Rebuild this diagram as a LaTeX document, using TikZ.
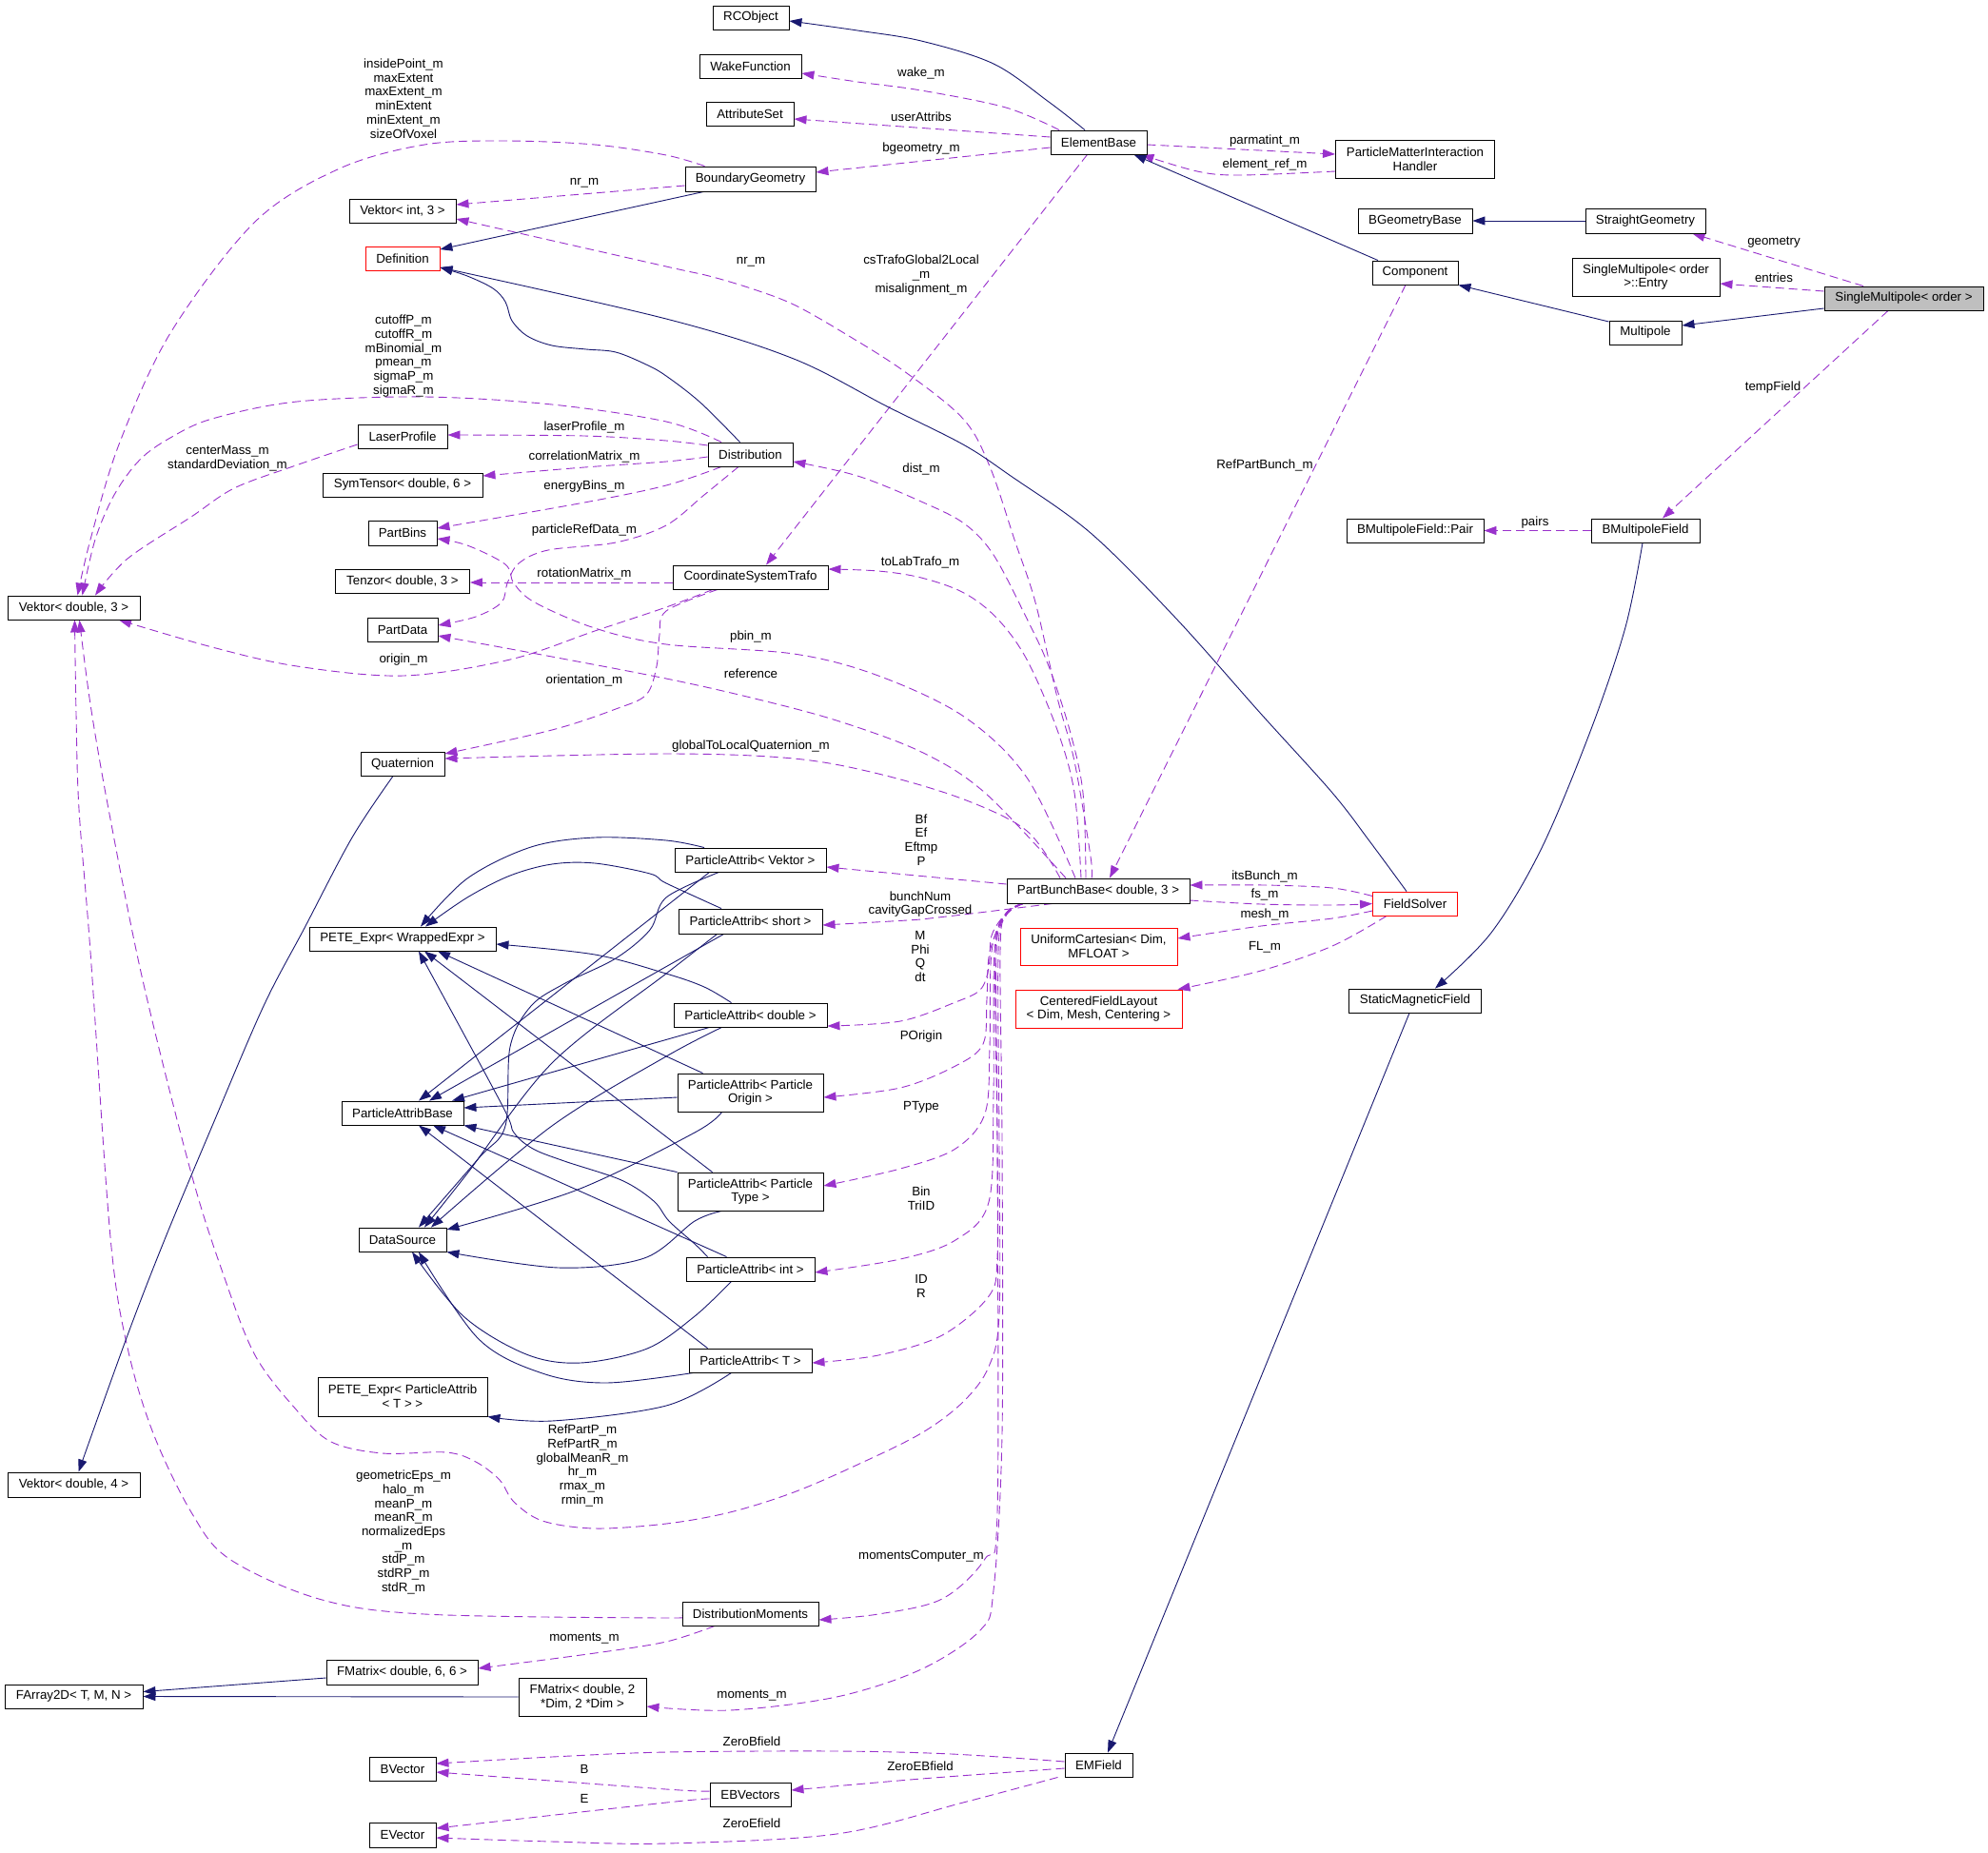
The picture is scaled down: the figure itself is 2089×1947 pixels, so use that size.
\documentclass[tikz,border=0pt]{standalone}
\usepackage{fontspec}
\setmainfont{Liberation Sans}
\usetikzlibrary{arrows.meta,calc,backgrounds}
\definecolor{mblue}{RGB}{25,25,112}
\definecolor{dorchid}{RGB}{153,50,204}
\definecolor{grayfill}{RGB}{191,191,191}
\newcommand{\labfont}{\fontsize{13.3}{14.7}\selectfont}
\tikzset{
 cls/.style={draw=black, line width=0.9pt, fill=white, inner sep=0pt, align=center, minimum height=25pt, font=\labfont},
 redcls/.style={cls, draw=red},
 inh/.style={draw=mblue, line width=0.9pt, -{Triangle[length=13pt,width=9pt]}},
 usage/.style={draw=dorchid, line width=0.9pt, dash pattern=on 9pt off 5pt, -{Triangle[length=13pt,width=9pt]}},
 lbl/.style={inner sep=0pt, align=center, font=\labfont},
 sm/.style={smooth, tension=0.55}
}
\begin{document}
\begin{tikzpicture}[x=1pt,y=-1pt]
\useasboundingbox (0,0) rectangle (2089,1947);
% ---------- nodes ----------
\node[cls, minimum width=80pt] (rc) at (789,18.5) {RCObject};
\node[cls, minimum width=107pt] (wf) at (788.5,69.5) {WakeFunction};
\node[cls, minimum width=92pt] (as) at (788,119.5) {AttributeSet};
\node[cls, minimum width=137pt, minimum height=26pt] (bg) at (788.5,188) {BoundaryGeometry};
\node[cls, minimum width=101pt] (eb) at (1154.5,149.5) {ElementBase};
\node[cls, minimum width=167pt, minimum height=40pt] (pmih) at (1487,167) {ParticleMatterInteraction\\Handler};
\node[cls, minimum width=120pt, minimum height=26pt] (bgb) at (1487,232) {BGeometryBase};
\node[cls, minimum width=126pt, minimum height=26pt] (sg) at (1729,232) {StraightGeometry};
\node[cls, minimum width=155pt, minimum height=40pt] (en) at (1729.5,291) {SingleMultipole< order\\>::Entry};
\node[cls, minimum width=90pt] (comp) at (1487,286.5) {Component};
\node[cls, fill=grayfill, minimum width=167pt] (smp) at (2000.5,313.5) {SingleMultipole< order >};
\node[cls, minimum width=76pt] (mp) at (1729,349.5) {Multipole};
\node[cls, minimum width=112pt] (vi3) at (423,221.5) {Vektor< int, 3 >};
\node[redcls, minimum width=78pt] (def) at (423,271.5) {Definition};
\node[cls, minimum width=94pt] (lp) at (423,458.5) {LaserProfile};
\node[cls, minimum width=168pt] (st) at (423,509.5) {SymTensor< double, 6 >};
\node[cls, minimum width=72pt, minimum height=26pt] (pb) at (423,560) {PartBins};
\node[cls, minimum width=141pt] (tz) at (423,610.5) {Tenzor< double, 3 >};
\node[cls, minimum width=74pt] (pd) at (423,661.5) {PartData};
\node[cls, minimum width=139pt] (v3) at (77.5,638.5) {Vektor< double, 3 >};
\node[cls, minimum width=88pt] (q) at (423,802.5) {Quaternion};
\node[cls, minimum width=89pt] (dist) at (788.5,477.5) {Distribution};
\node[cls, minimum width=163pt] (cst) at (788.5,606.5) {CoordinateSystemTrafo};
\node[cls, minimum width=159pt] (pav) at (788.5,903.5) {ParticleAttrib< Vektor >};
\node[cls, minimum width=151pt, minimum height=26pt] (pas) at (788.5,968) {ParticleAttrib< short >};
\node[cls, minimum width=161pt] (pad) at (788.5,1066.5) {ParticleAttrib< double >};
\node[cls, minimum width=153pt, minimum height=40pt] (pao) at (788.5,1148) {ParticleAttrib< Particle\\Origin >};
\node[cls, minimum width=153pt, minimum height=40pt] (pat) at (788.5,1252) {ParticleAttrib< Particle\\Type >};
\node[cls, minimum width=135pt] (pai) at (788.5,1333.5) {ParticleAttrib< int >};
\node[cls, minimum width=129pt] (pa2) at (788.5,1429.5) {ParticleAttrib< T >};
\node[cls, minimum width=192pt, minimum height=26pt] (pbb) at (1154,936) {PartBunchBase< double, 3 >};
\node[redcls, minimum width=165pt, minimum height=39pt] (uc) at (1154.5,994.5) {UniformCartesian< Dim,\\MFLOAT >};
\node[redcls, minimum width=175pt, minimum height=40pt] (cfl) at (1154.5,1060) {CenteredFieldLayout\\< Dim, Mesh, Centering >};
\node[cls, minimum width=196pt] (pete) at (423,986.5) {PETE\_Expr< WrappedExpr >};
\node[cls, minimum width=128pt] (pab) at (423,1169.5) {ParticleAttribBase};
\node[cls, minimum width=92pt] (ds) at (423,1302.5) {DataSource};
\node[cls, minimum width=178pt, minimum height=41pt] (pete2) at (423,1467.5) {PETE\_Expr< ParticleAttrib\\< T > >};
\node[cls, minimum width=139pt, minimum height=26pt] (v4) at (77.5,1560) {Vektor< double, 4 >};
\node[cls, minimum width=143pt] (dm) at (788.5,1695.5) {DistributionMoments};
\node[cls, minimum width=159pt, minimum height=26pt] (fm66) at (422.5,1757) {FMatrix< double, 6, 6 >};
\node[cls, minimum width=145pt] (fa) at (77.5,1782.5) {FArray2D< T, M, N >};
\node[cls, minimum width=134pt, minimum height=40pt] (fm2) at (612,1783) {FMatrix< double, 2\\*Dim, 2 *Dim >};
\node[cls, minimum width=70pt] (bv) at (423,1858.5) {BVector};
\node[cls, minimum width=70pt, minimum height=26pt] (ev) at (423,1928) {EVector};
\node[cls, minimum width=85pt] (ebv) at (788.5,1885.5) {EBVectors};
\node[cls, minimum width=71pt] (em) at (1154.5,1854.5) {EMField};
\node[cls, minimum width=144pt] (pair) at (1487,557.5) {BMultipoleField::Pair};
\node[cls, minimum width=114pt] (bmf) at (1729,557.5) {BMultipoleField};
\node[redcls, minimum width=89pt] (fs) at (1487,949.5) {FieldSolver};
\node[cls, minimum width=139pt] (smf) at (1487,1051.5) {StaticMagneticField};
% ---------- labels ----------
\node[lbl] (la1) at (424,103.5) {insidePoint\_m\\maxExtent\\maxExtent\_m\\minExtent\\minExtent\_m\\sizeOfVoxel};
\node[lbl] (la2) at (614,192) {nr\_m};
\node[lbl] (la3) at (789,275) {nr\_m};
\node[lbl] (la4) at (968,77) {wake\_m};
\node[lbl] (la5) at (968,123) {userAttribs};
\node[lbl] (la6) at (968,156) {bgeometry\_m};
\node[lbl] (la7) at (1329,148) {parmatint\_m};
\node[lbl] (la8) at (1329,173) {element\_ref\_m};
\node[lbl] (la9) at (968,289) {csTrafoGlobal2Local\\\_m\\misalignment\_m};
\node[lbl] (la10) at (424,374) {cutoffP\_m\\cutoffR\_m\\mBinomial\_m\\pmean\_m\\sigmaP\_m\\sigmaR\_m};
\node[lbl] (la11) at (614,449) {laserProfile\_m};
\node[lbl] (la12) at (239,482) {centerMass\_m\\standardDeviation\_m};
\node[lbl] (la13) at (614,480) {correlationMatrix\_m};
\node[lbl] (la14) at (614,511) {energyBins\_m};
\node[lbl] (la15) at (614,557) {particleRefData\_m};
\node[lbl] (la16) at (614,603) {rotationMatrix\_m};
\node[lbl] (la17) at (424,693) {origin\_m};
\node[lbl] (la18) at (614,715) {orientation\_m};
\node[lbl] (la19) at (1329,489) {RefPartBunch\_m};
\node[lbl] (la20) at (968,493) {dist\_m};
\node[lbl] (la21) at (967,591) {toLabTrafo\_m};
\node[lbl] (la22) at (789,669) {pbin\_m};
\node[lbl] (la23) at (789,708) {reference};
\node[lbl] (la24) at (789,784) {globalToLocalQuaternion\_m};
\node[lbl] (la25) at (968,882.5) {Bf\\Ef\\Eftmp\\P};
\node[lbl] (la26) at (967,950) {bunchNum\\cavityGapCrossed};
\node[lbl] (la27) at (967,1005) {M\\Phi\\Q\\dt};
\node[lbl] (la28) at (968,1089) {POrigin};
\node[lbl] (la29) at (968,1163) {PType};
\node[lbl] (la30) at (968,1259.5) {Bin\\TriID};
\node[lbl] (la31) at (968,1351.5) {ID\\R};
\node[lbl] (la32) at (1329,921) {itsBunch\_m};
\node[lbl] (la33) at (1329,940) {fs\_m};
\node[lbl] (la34) at (1329,961) {mesh\_m};
\node[lbl] (la35) at (1329,995) {FL\_m};
\node[lbl] (la36) at (1864,255) {geometry};
\node[lbl] (la37) at (1864,292) {entries};
\node[lbl] (la38) at (1863,407) {tempField};
\node[lbl] (la39) at (1613,549) {pairs};
\node[lbl] (la40) at (612,1540) {RefPartP\_m\\RefPartR\_m\\globalMeanR\_m\\hr\_m\\rmax\_m\\rmin\_m};
\node[lbl] (la41) at (424,1610) {geometricEps\_m\\halo\_m\\meanP\_m\\meanR\_m\\normalizedEps\\\_m\\stdP\_m\\stdRP\_m\\stdR\_m};
\node[lbl] (la42) at (968,1635) {momentsComputer\_m};
\node[lbl] (la43) at (614,1721) {moments\_m};
\node[lbl] (la44) at (790,1781) {moments\_m};
\node[lbl] (la45) at (790,1830) {ZeroBfield};
\node[lbl] (la46) at (967,1856) {ZeroEBfield};
\node[lbl] (la47) at (614,1859) {B};
\node[lbl] (la48) at (614,1890) {E};
\node[lbl] (la49) at (790,1916) {ZeroEfield};
% ---------- edges ----------
\begin{pgfonlayer}{background}
\fill[white] (0,0) rectangle (2089,1947);
% usage edges
\draw[usage] plot[sm] coordinates {($(eb.north)+(-41.5,0)$) (1057,113) (968,95) (901,86) ($(wf.east)+(0,7.5)$)};
\draw[usage] ($(eb.west)+(0,-5.5)$) -- ($(as.east)+(0,5.5)$);
\draw[usage] ($(eb.west)+(0,5.5)$) -- ($(bg.east)+(0,-7)$);
\draw[usage] ($(eb.east)+(0,2.5)$) -- ($(pmih.west)+(0,-5)$);
\draw[usage] plot[sm] coordinates {($(pmih.west)+(0,13)$) (1303,184) (1258,180) ($(eb.south east)+(-6,0)$)};
\draw[usage] ($(eb.south)+(-12,0)$) -- ($(cst.north)+(16.5,0)$);
\draw[usage] plot[sm] coordinates {($(bg.north)+(-48,0)$) (700,163) (625,152) (531,148) (446,152) (357,177) (268,233) (179,350) (125,467) (95,567) ($(v3.north)+(4,0)$)};
\draw[usage] ($(bg.west)+(0,7)$) -- ($(vi3.east)+(0,-6.5)$);
\draw[usage] plot[sm] coordinates {($(dist.north)+(-30.5,0)$) (700,443) (580,425) (446,417) (312,422) (223,440) (179,460) (147,483) (120,520) (100,567) ($(v3.north)+(9,0)$)};
\draw[usage] plot[sm] coordinates {($(dist.west)+(0,-9.5)$) (700,463) (614,458) ($(lp.east)+(0,-1.5)$)};
\draw[usage] plot[sm] coordinates {($(dist.west)+(0,2.5)$) (700,485) (614,491) ($(st.east)+(0,-9.5)$)};
\draw[usage] plot[sm] coordinates {($(dist.south)+(-30.5,0)$) (700,510) (614,528) ($(pb.east)+(0,-5)$)};
\draw[usage] plot[sm] coordinates {($(dist.south)+(-12.5,0)$) (740,520) (700,552) (647,570) (576,578) (545,592) (533,613) (527,633) (500,648) ($(pd.east)+(0,-4.5)$)};
\draw[usage] plot[sm] coordinates {($(lp.west)+(0,8.5)$) (308,490) (246,513) (201,543) (134,587) ($(v3.north)+(22.5,0)$)};
\draw[usage] ($(cst.west)+(0,5.5)$) -- ($(tz.east)+(0,1.5)$);
\draw[usage] plot[sm] coordinates {($(cst.south)+(-39.5,0)$) (700,638) (625,663) (536,693) (424,710) (312,700) (223,680) ($(v3.south)+(47.5,0)$)};
\draw[usage] plot[sm] coordinates {($(cst.south)+(-34.5,0)$) (700,642) (693,667) (690,700) (679,730) (647,745) (580,767) ($(q.east)+(0,-10.5)$)};
\draw[usage] ($(comp.south)+(-10,0)$) -- ($(pbb.north)+(12,0)$);
\draw[usage] plot[sm] coordinates {($(pbb.north)+(-7,0)$) (1146,900) (1129,800) (1111,733) (1088,633) (1066,567) (1040,490) (1012,440) (950,390) (887,350) (834,320) (789,303) (745,290) (700,280) ($(vi3.east)+(0,8.5)$)};
\draw[usage] plot[sm] coordinates {($(pbb.north)+(-13,0)$) (1138,833) (1124,767) (1102,700) (1079,650) (1044,583) (1013,550) (968,527) (901,500) ($(dist.east)+(0,7.5)$)};
\draw[usage] plot[sm] coordinates {($(pbb.north)+(-18,0)$) (1129,833) (1111,767) (1079,693) (1048,650) (1013,623) (968,607) (923,600) ($(cst.east)+(0,-8.5)$)};
\draw[usage] plot[sm] coordinates {($(pbb.north)+(-24,0)$) (1079,817) (1013,753) (923,710) (834,687) (700,677) (625,660) (562,633) (540,613) (531,593) (491,573) ($(pb.east)+(0,6)$)};
\draw[usage] plot[sm] coordinates {($(pbb.north)+(-34,0)$) (1035,833) (968,790) (879,757) (789,733) (700,713) (580,690) ($(pd.east)+(0,6.5)$)};
\draw[usage] plot[sm] coordinates {($(pbb.north)+(-40,0)$) (1079,873) (1013,840) (923,813) (834,797) (700,792) ($(q.east)+(0,-5.5)$)};
\draw[usage] ($(pbb.west)+(0,-7)$) -- ($(pav.east)+(0,7.5)$);
\draw[usage] plot[sm] coordinates {($(pbb.south)+(-48,0)$) (1012,961) (968,966) ($(pas.east)+(0,4)$)};
\draw[usage] plot[sm] coordinates {($(pbb.south)+(-79,0)$) (1057,960) (1042,983) (1039,1017) (1030,1040) (1004,1053) (946,1073) ($(pad.east)+(0,11.5)$)};
\draw[usage] plot[sm] coordinates {($(pbb.south)+(-79,0)$) (1057,960) (1040,1000) (1037,1050) (1033,1097) (1004,1120) (946,1143) ($(pao.east)+(0,5)$)};
\draw[usage] plot[sm] coordinates {($(pbb.south)+(-79,0)$) (1057,960) (1042,1000) (1040,1100) (1035,1170) (1004,1207) (946,1228) ($(pat.east)+(0,-6)$)};
\draw[usage] plot[sm] coordinates {($(pbb.south)+(-79,0)$) (1057,960) (1045,1000) (1044,1150) (1039,1263) (1004,1303) (946,1323) ($(pai.east)+(0,3.5)$)};
\draw[usage] plot[sm] coordinates {($(pbb.south)+(-79,0)$) (1057,960) (1046,1000) (1048,1200) (1048,1321) (1039,1362) (990,1403) (923,1424) ($(pa2.east)+(0,2.5)$)};
\draw[usage] plot[sm] coordinates {($(pbb.south)+(-79,0)$) (1057,962) (1049,1000) (1050,1200) (1050,1380) (1039,1436) (1012,1473) (968,1506) (901,1539) (834,1568) (767,1589) (700,1601) (625,1606) (570,1598) (540,1578) (525,1555) (500,1536) (469,1526) (402,1527) (348,1515) (312,1482) (268,1424) (235,1340) (201,1233) (150,1030) (114,850) (95,740) ($(v3.south)+(6,0)$)};
\draw[usage] plot[sm] coordinates {($(dm.west)+(0,2)$) (700,1700) (446,1696) (335,1680) (241,1638) (201,1589) (161,1506) (134,1416) (116,1300) (95,1000) (83,850) (80,750) ($(v3.south)+(1,0)$)};
\draw[usage] plot[sm] coordinates {($(pbb.south)+(-79,0)$) (1057,962) (1047,1000) (1048,1200) (1048,1589) (1035,1638) (990,1680) (923,1696) ($(dm.east)+(0,6.5)$)};
\draw[usage] plot[sm] coordinates {($(pbb.south)+(-79,0)$) (1057,962) (1051,1000) (1053,1200) (1053,1506) (1044,1671) (1030,1713) (968,1754) (879,1783) (767,1797) ($(fm2.east)+(0,10)$)};
\draw[usage] plot[sm] coordinates {($(dm.south)+(-37.5,0)$) (700,1725) (625,1737) ($(fm66.east)+(0,-4)$)};
\draw[usage] plot[sm] coordinates {($(fs.west)+(0,-8)$) (1400,933) (1329,930) ($(pbb.east)+(0,-6)$)};
\draw[usage] plot[sm] coordinates {($(pbb.east)+(0,10)$) (1325,950) (1400,951) (fs.west)};
\draw[usage] plot[sm] coordinates {($(fs.west)+(0,7.5)$) (1400,965) (1325,973) ($(uc.east)+(0,-8.5)$)};
\draw[usage] plot[sm] coordinates {($(fs.south)+(-30,0)$) (1400,994) (1325,1020) ($(cfl.north east)+(-5,0)$)};
\draw[usage] ($(smp.north)+(-42.5,0)$) -- ($(sg.south east)+(-14,0)$);
\draw[usage] ($(smp.west)+(0,-7.5)$) -- ($(en.east)+(0,7)$);
\draw[usage] ($(smp.south)+(-16.5,0)$) -- ($(bmf.north)+(18,0)$);
\draw[usage] (bmf.west) -- (pair.east);
\draw[usage] plot[sm] coordinates {($(em.west)+(0,-3.5)$) (1000,1843) (879,1840) (700,1841) (580,1846) ($(bv.east)+(0,-5.5)$)};
\draw[usage] plot[sm] coordinates {($(em.west)+(0,3.5)$) (968,1869) ($(ebv.east)+(0,-4.5)$)};
\draw[usage] plot[sm] coordinates {($(em.south)+(-43,0)$) (1012,1894) (879,1927) (700,1937) (580,1935) ($(ev.east)+(0,3)$)};
\draw[usage] plot[sm] coordinates {($(ebv.west)+(0,-3.5)$) (700,1880) ($(bv.east)+(0,3.5)$)};
\draw[usage] plot[sm] coordinates {($(ebv.west)+(0,4.5)$) (700,1894) ($(ev.east)+(0,-7)$)};
% inheritance edges
\draw[inh] plot[sm] coordinates {($(eb.north)+(-14.5,0)$) (1102,107) (1044,67) (968,43) (901,32) ($(rc.east)+(0,3.5)$)};
\draw[inh] ($(comp.north)+(-39,0)$) -- ($(eb.south east)+(-14,0)$);
\draw[inh] ($(bg.south)+(-49,0)$) -- ($(def.east)+(0,-9.5)$);
\draw[inh] plot[sm] coordinates {($(dist.north)+(-11,0)$) (736,423) (700,395) (679,383) (647,370) (616,367) (580,363) (554,353) (538,337) (531,317) (518,303) (491,290) ($(def.east)+(0,9.5)$)};
\draw[inh] plot[sm] coordinates {($(fs.north)+(-9,0)$) (1440,885) (1400,833) (1325,750) (1236,650) (1146,560) (1062,500) (1012,467) (932,427) (834,377) (700,335) ($(def.east)+(0,9.5)$)};
\draw[inh] ($(mp.west)+(0,-11.5)$) -- (comp.south east);
\draw[inh] ($(smp.west)+(0,10.5)$) -- ($(mp.east)+(0,-7.5)$);
\draw[inh] (sg.west) -- (bgb.east);
\draw[inh] plot[sm] coordinates {($(q.south)+(-10,0)$) (370,880) (320,975) (277,1057) (223,1183) (174,1300) (134,1403) ($(v4.north)+(5,0)$)};
\draw[inh] plot[sm] coordinates {($(bmf.south)+(-3,0)$) (1708,659) (1672,766) (1620,891) (1567,980) ($(smf.north)+(21,0)$)};
\draw[inh] ($(smf.south)+(-6,0)$) -- ($(em.north)+(9.5,0)$);
\draw[inh] ($(fm66.west)+(0,6)$) -- ($(fa.east)+(0,-5)$);
\draw[inh] (fm2.west) -- (fa.east);
% ParticleAttrib web
\draw[inh] plot[sm] coordinates {($(pav.north)+(-48.5,0)$) (700,883) (625,880) (558,890) (491,923) ($(pete.north)+(19,0)$)};
\draw[inh] plot[sm] coordinates {($(pas.north)+(-30.5,0)$) (700,928) (683,918) (625,907) (580,908) (536,920) (491,943) ($(pete.north)+(24,0)$)};
\draw[inh] plot[sm] coordinates {($(pad.north)+(-20,0)$) (740,1037) (700,1023) (625,1003) ($(pete.east)+(0,5.5)$)};
\draw[inh] ($(pao.north)+(-50,0)$) -- ($(pete.south)+(37,0)$);
\draw[inh] ($(pat.north)+(-40,0)$) -- ($(pete.south)+(23,0)$);
\draw[inh] plot[sm] coordinates {($(pai.north)+(-45,0)$) (730,1307) (703,1283) (687,1262) (653,1240) (593,1220) (560,1207) (540,1190) (527,1160) ($(pete.south)+(17,0)$)};
\draw[inh] ($(pav.south)+(-43,0)$) -- ($(pab.north)+(17,0)$);
\draw[inh] ($(pas.south)+(-28,0)$) -- ($(pab.north)+(28,0)$);
\draw[inh] ($(pad.south)+(-43,0)$) -- ($(pab.north)+(52,0)$);
\draw[inh] ($(pao.west)+(0,5)$) -- ($(pab.east)+(0,-5.5)$);
\draw[inh] (pat.north west) -- (pab.south east);
\draw[inh] ($(pai.north)+(-25,0)$) -- ($(pab.south)+(32,0)$);
\draw[inh] ($(pa2.north)+(-45,0)$) -- ($(pab.south)+(17,0)$);
\draw[inh] plot[sm] coordinates {($(pav.south)+(-33,0)$) (700,943) (683,977) (647,1007) (594,1033) (558,1057) (536,1100) (531,1183) (503,1217) ($(ds.north)+(17,0)$)};
\draw[inh] plot[sm] coordinates {($(pas.south)+(-35,0)$) (700,1023) (580,1117) (491,1233) ($(ds.north)+(23,0)$)};
\draw[inh] plot[sm] coordinates {($(pad.south)+(-30,0)$) (700,1110) (580,1183) ($(ds.north)+(30,0)$)};
\draw[inh] plot[sm] coordinates {($(pao.south)+(-30,0)$) (730,1190) (607,1250) ($(ds.east)+(0,-10.5)$)};
\draw[inh] plot[sm] coordinates {($(pat.south)+(-30,0)$) (730,1283) (677,1322) (587,1332) (ds.south east)};
\draw[inh] plot[sm] coordinates {($(pai.south)+(-20,0)$) (730,1383) (680,1417) (610,1432) (553,1423) (487,1383) ($(ds.south)+(10,0)$)};
\draw[inh] plot[sm] coordinates {($(pa2.south)+(-60,0)$) (637,1453) (570,1443) (503,1407) ($(ds.south)+(17,0)$)};
\draw[inh] plot[sm] coordinates {($(pa2.south)+(-20,0)$) (700,1477) (580,1493) (pete2.south east)};
\end{pgfonlayer}
\end{tikzpicture}
\end{document}
